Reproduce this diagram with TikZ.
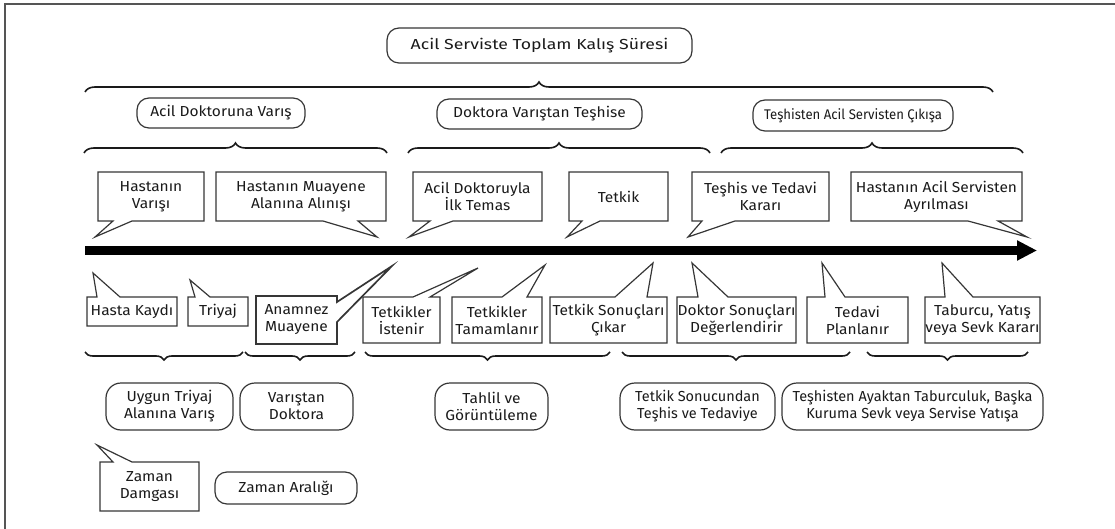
\documentclass[tikz,border=0pt]{standalone}
\usepackage{fontspec}
\setmainfont{Fira Sans}[FakeStretch=1.07]
\newfontfamily\widefont{Fira Sans}[FakeStretch=1.22]
\newfontfamily\plainfont{Fira Sans}[FakeStretch=1.0]
\newfontfamily\tightfont{Fira Sans}[FakeStretch=0.94]
\usetikzlibrary{decorations.pathreplacing,arrows.meta}
\definecolor{ink}{HTML}{1A1A1A}
\definecolor{edge}{HTML}{363636}
\definecolor{framegray}{HTML}{555555}
\begin{document}
\begin{tikzpicture}[x=1pt,y=-1pt,
  txt/.style={align=center, inner sep=0pt, text=ink, font=\fontsize{14.5}{17}\selectfont},
  outline/.style={draw=edge, line width=1.2pt, line join=miter},
  pill/.style={txt, draw=edge, line width=1.2pt, rounded corners=12pt},
  upbrace/.style={decorate, decoration={brace, amplitude=10pt}, draw=ink, line width=1.6pt},
  downbrace/.style={decorate, decoration={brace, mirror, amplitude=8pt}, draw=ink, line width=1.6pt},
  timeline/.style={draw=black, line width=8.5pt, -{Triangle[length=20pt,width=19pt]}}
]
\useasboundingbox (0,0) rectangle (1115,529);
% page frame (only the top and left edges fall inside the page)
\draw[framegray, line width=1.5pt] (5,529) -- (5,4) -- (1115,4);

% ---- overall stay and its three phases ----
\node[pill, minimum width=305pt, minimum height=35pt, font=\widefont\fontsize{14.5}{17}\selectfont] (total) at (539.5,45.5) {Acil Serviste Toplam Kalış Süresi};
\draw[upbrace] (85,92) -- (993,92);

\node[pill, minimum width=168pt, minimum height=30pt] (ph1) at (221,113) {Acil Doktoruna Varış};
\node[pill, minimum width=205pt, minimum height=30pt] (ph2) at (539.5,114) {Doktora Varıştan Teşhise};
\node[pill, minimum width=200pt, minimum height=31pt, font=\tightfont\fontsize{14}{17}\selectfont] (ph3) at (853,115.5) {Teşhisten Acil Servisten Çıkışa};
\draw[upbrace] (84,153) -- (387,153);
\draw[upbrace] (408,153) -- (710,153);
\draw[upbrace] (721,153) -- (1023,153);

% ---- time stamps above the time line ----
\draw[outline] (98,172) -- (204,172) -- (204,221) -- (132,221) -- (95,237) -- (113,221) -- (98,221) -- cycle;
\node[txt] (s1) at (151,196.5) {Hastanın\\Varışı};
\draw[outline] (216,172) -- (386,172) -- (386,221) -- (358,221) -- (377,237) -- (323,221) -- (216,221) -- cycle;
\node[txt] (s2) at (301,196.5) {Hastanın Muayene\\Alanına Alınışı};
\draw[outline] (413,172) -- (542,172) -- (542,221) -- (453,221) -- (409,237) -- (430,221) -- (413,221) -- cycle;
\node[txt] (s3) at (477.5,196.5) {Acil Doktoruyla\\İlk Temas};
\draw[outline] (569,172) -- (668,172) -- (668,221) -- (600,221) -- (567,237) -- (582,221) -- (569,221) -- cycle;
\node[txt] (s4) at (618.5,196.5) {Tetkik};
\draw[outline] (692,172) -- (829,172) -- (829,221) -- (735,221) -- (688,237) -- (702,221) -- (692,221) -- cycle;
\node[txt] (s5) at (760.5,196.5) {Teşhis ve Tedavi\\Kararı};
\draw[outline] (851,172) -- (1022,172) -- (1022,221) -- (998,221) -- (1027,237) -- (968,221) -- (851,221) -- cycle;
\node[txt] (s6) at (936.5,196.5) {Hastanın Acil Servisten\\Ayrılması};

% ---- time line ----
\coordinate (t0) at (85,250.5);
\coordinate (t1) at (1037,250.5);
\draw[timeline] (t0) -- (t1);

% ---- steps below the time line ----
\draw[outline] (87,297) -- (97,297) -- (93,273) -- (120,297) -- (177,297) -- (177,326) -- (87,326) -- cycle;
\node[txt] (b1) at (132,311.5) {Hasta Kaydı};
\draw[outline] (188,297) -- (195,297) -- (190,280) -- (210,297) -- (248,297) -- (248,326) -- (188,326) -- cycle;
\node[txt] (b2) at (218,311.5) {Triyaj};
\draw[outline, line width=1.7pt] (256,296) -- (337,296) -- (337,302) -- (392,266) -- (337,322) -- (337,344) -- (256,344) -- cycle;
\node[txt] (b3) at (296.5,320) {Anamnez\\Muayene};
\draw[outline] (363,297) -- (413,297) -- (478,268) -- (430,297) -- (440,297) -- (440,343) -- (363,343) -- cycle;
\node[txt] (b4) at (401.5,320) {Tetkikler\\İstenir};
\draw[outline] (452,297) -- (502,297) -- (545,265) -- (527,297) -- (542,297) -- (542,343) -- (452,343) -- cycle;
\node[txt] (b5) at (497,320) {Tetkikler\\Tamamlanır};
\draw[outline] (550,297) -- (615,297) -- (653,263) -- (647,297) -- (667,297) -- (667,343) -- (550,343) -- cycle;
\node[txt] (b6) at (608.5,320) {Tetkik Sonuçları\\Çıkar};
\draw[outline] (677,297) -- (698,297) -- (692,263) -- (728,297) -- (796,297) -- (796,343) -- (677,343) -- cycle;
\node[txt] (b7) at (736.5,320) {Doktor Sonuçları\\Değerlendirir};
\draw[outline] (807,297) -- (825,297) -- (822,263) -- (845,297) -- (908,297) -- (908,343) -- (807,343) -- cycle;
\node[txt] (b8) at (857.5,320) {Tedavi\\Planlanır};
\draw[outline] (925,297) -- (945,297) -- (942,263) -- (973,297) -- (1040,297) -- (1040,343) -- (925,343) -- cycle;
\node[txt] (b9) at (982.5,320) {Taburcu, Yatış\\veya Sevk Kararı};

% ---- intervals ----
\draw[downbrace] (85,352) -- (243,352);
\draw[downbrace] (245,352) -- (355,352);
\draw[downbrace] (365,352) -- (610,352);
\draw[downbrace] (622,352) -- (850,352);
\draw[downbrace] (867,352) -- (1028,352);

\node[pill, rounded corners=15pt, minimum width=127pt, minimum height=47pt] (i1) at (169.5,406.5) {Uygun Triyaj\\Alanına Varış};
\node[pill, rounded corners=15pt, minimum width=113pt, minimum height=47pt] (i2) at (296.5,406.5) {Varıştan\\Doktora};
\node[pill, rounded corners=15pt, minimum width=113pt, minimum height=47pt] (i3) at (491.5,406.5) {Tahlil ve\\Görüntüleme};
\node[pill, rounded corners=15pt, minimum width=155pt, minimum height=47pt, font=\plainfont\fontsize{14.5}{17}\selectfont] (i4) at (697.5,406.5) {Tetkik Sonucundan\\Teşhis ve Tedaviye};
\node[pill, rounded corners=15pt, minimum width=261pt, minimum height=47pt, font=\plainfont\fontsize{14.5}{17}\selectfont] (i5) at (912.5,406.5) {Teşhisten Ayaktan Taburculuk, Başka\\Kuruma Sevk veya Servise Yatışa};

% ---- legend ----
\draw[outline] (100,462) -- (113,462) -- (97,445) -- (132,462) -- (199,462) -- (199,511) -- (100,511) -- cycle;
\node[txt] (lg1) at (149.5,486.5) {Zaman\\Damgası};
\node[pill, minimum width=142pt, minimum height=32pt] (lg2) at (286,488) {Zaman Aralığı};
\end{tikzpicture}
\end{document}
